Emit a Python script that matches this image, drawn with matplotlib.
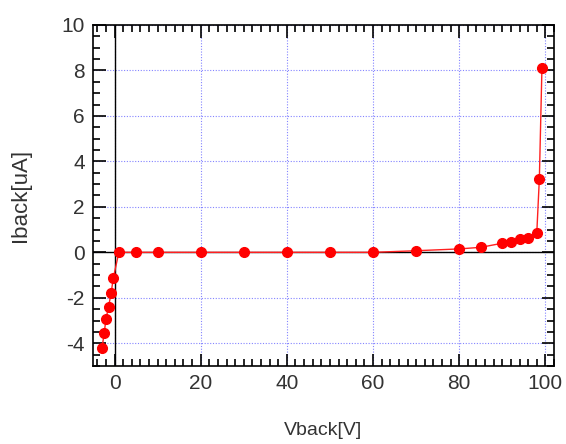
import numpy as np
import matplotlib
matplotlib.use("Agg")
import matplotlib.pyplot as plt
from matplotlib.ticker import MultipleLocator

# ── Data ─────────────────────────────────────────────────────
vback = [-2.9, -2.4, -2.0, -1.4, -0.8, -0.3, 1, 5, 10, 20, 30, 40, 50, 60,
         70, 80, 85, 90, 92, 94, 96, 98, 98.6, 99.2]
iback = [-4.2, -3.55, -2.95, -2.4, -1.8, -1.15, 0.0, 0.0, 0.0, 0.0, 0.0, 0.0, 0.0, 0.0,
         0.07, 0.15, 0.22, 0.4, 0.47, 0.59, 0.65, 0.84, 3.23, 8.1]

x_ticks = [0, 20, 40, 60, 80, 100]
y_ticks = [-4, -2, 0, 2, 4, 6, 8, 10]

plt.rcParams["font.family"] = ["Liberation Sans", "DejaVu Sans"]
plt.rcParams["axes.unicode_minus"] = False

fig = plt.figure(figsize=(5.66, 4.44), dpi=100, facecolor="white")
ax = fig.add_axes([0.1643, 0.1757, 0.8145, 0.768])

ax.set_xlim(-5, 102)
ax.set_ylim(-5, 10)

# zero lines
ax.axhline(0, color="black", lw=1.0, zorder=1)
ax.axvline(0, color="black", lw=1.0, zorder=1)

ax.plot(vback, iback, color="#ff2020", lw=1.0, marker="o", ms=7,
        mfc="red", mec="red", zorder=3)

ax.set_xticks(x_ticks)
ax.set_yticks(y_ticks)
ax.xaxis.set_minor_locator(MultipleLocator(2))
ax.yaxis.set_minor_locator(MultipleLocator(0.5))
ax.tick_params(which="both", direction="in", top=True, right=True,
               colors="black", labelcolor="#333333", labelsize=15, width=1.2)
ax.tick_params(which="major", length=9, pad=6)
ax.tick_params(which="minor", length=5)

ax.grid(which="major", color="#5050ff", linestyle=(0, (1, 1.5)), lw=0.8, alpha=0.7)
ax.set_axisbelow(True)

for spine in ax.spines.values():
    spine.set_edgecolor("black")
    spine.set_linewidth(1.2)

ax.set_xlabel("Vback[V]", fontsize=14, color="#333333")
ax.set_ylabel("Iback[uA]", fontsize=16, color="#333333")
ax.xaxis.set_label_coords(0.5, -0.188)
ax.yaxis.set_label_coords(-0.158, 0.5)
ax.xaxis.label.set_va("center")
ax.yaxis.label.set_va("center")

plt.savefig("out.png", dpi=100, facecolor=fig.get_facecolor())
plt.close()
